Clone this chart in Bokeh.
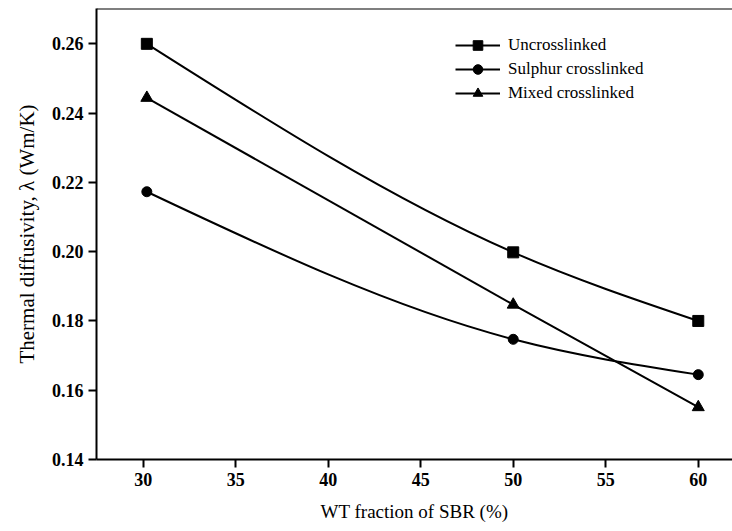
from bokeh.plotting import figure
from bokeh.models import Range1d, Legend, LegendItem, Span, FixedTicker, AllLabels
from bokeh.embed import file_html
from bokeh.resources import INLINE

# Data
wt_fraction = [30.2, 50.0, 60.0]
uncrosslinked = [0.2600, 0.1998, 0.1800]
sulphur = [0.2173, 0.1747, 0.1645]
mixed = [0.2444, 0.1847, 0.1551]
series_names = ["Uncrosslinked", "Sulphur crosslinked", "Mixed crosslinked"]
x_ticks = [30, 35, 40, 45, 50, 55, 60]
y_ticks = [0.14, 0.16, 0.18, 0.20, 0.22, 0.24, 0.26]

FONT = "Liberation Serif"

p = figure(width=732, height=531, output_backend="svg", toolbar_location=None,
           x_range=Range1d(27.48, 61.85), y_range=Range1d(0.14, 0.2702),
           min_border_left=96, min_border_right=0, min_border_top=8, min_border_bottom=72)
p.outline_line_color = None
p.grid.grid_line_color = None
p.background_fill_color = "white"
p.border_fill_color = "white"


def spline_segments(xs, ys):
    """Natural cubic spline through the data points, expressed as cubic bezier segments."""
    n = len(xs)
    h = [xs[i + 1] - xs[i] for i in range(n - 1)]
    d = [(ys[i + 1] - ys[i]) / h[i] for i in range(n - 1)]
    M = [0.0] * n
    if n > 2:
        a = [h[i - 1] for i in range(1, n - 1)]
        b = [2 * (h[i - 1] + h[i]) for i in range(1, n - 1)]
        c = [h[i] for i in range(1, n - 1)]
        r = [6 * (d[i] - d[i - 1]) for i in range(1, n - 1)]
        m = len(b)
        for i in range(1, m):
            w = a[i] / b[i - 1]
            b[i] -= w * c[i - 1]
            r[i] -= w * r[i - 1]
        sol = [0.0] * m
        sol[-1] = r[-1] / b[-1]
        for i in range(m - 2, -1, -1):
            sol[i] = (r[i] - c[i] * sol[i + 1]) / b[i]
        for i in range(m):
            M[i + 1] = sol[i]
    seg = dict(x0=[], y0=[], x1=[], y1=[], cx0=[], cy0=[], cx1=[], cy1=[])
    for i in range(n - 1):
        t0 = d[i] - h[i] * (2 * M[i] + M[i + 1]) / 6
        t1 = d[i] + h[i] * (M[i] + 2 * M[i + 1]) / 6
        seg["x0"].append(xs[i]); seg["y0"].append(ys[i])
        seg["x1"].append(xs[i + 1]); seg["y1"].append(ys[i + 1])
        seg["cx0"].append(xs[i] + h[i] / 3); seg["cy0"].append(ys[i] + t0 * h[i] / 3)
        seg["cx1"].append(xs[i + 1] - h[i] / 3); seg["cy1"].append(ys[i + 1] - t1 * h[i] / 3)
    return seg


legend_items = []
for name, ys, marker, size in [
    (series_names[0], uncrosslinked, "square", 11),
    (series_names[1], sulphur, "circle", 10),
    (series_names[2], mixed, "triangle", 12),
]:
    seg = spline_segments(wt_fraction, ys)
    b = p.bezier(x0=seg["x0"], y0=seg["y0"], x1=seg["x1"], y1=seg["y1"],
                 cx0=seg["cx0"], cy0=seg["cy0"], cx1=seg["cx1"], cy1=seg["cy1"],
                 line_color="black", line_width=2)
    s = p.scatter(wt_fraction, ys, marker=marker, size=size, fill_color="black", line_color="black")
    legend_items.append(LegendItem(label=name, renderers=[b, s]))

legend = Legend(items=legend_items, location=(359, 354), orientation="vertical",
                border_line_color=None, background_fill_alpha=0,
                glyph_width=45, glyph_height=24, spacing=0,
                label_standoff=8, padding=0, margin=0,
                label_text_font=FONT, label_text_font_size="17px", label_text_color="black")
p.add_layout(legend)

top_line = Span(location=0.2702, dimension="width", line_color="black", line_width=2)
p.add_layout(top_line)

for ax in (p.xaxis[0], p.yaxis[0]):
    ax.axis_line_width = 2
    ax.axis_line_color = "black"
    ax.major_tick_line_width = 2
    ax.major_tick_line_color = "black"
    ax.major_tick_in = 0
    ax.major_tick_out = 8
    ax.minor_tick_line_color = None
    ax.major_label_policy = AllLabels()
    ax.major_label_text_font = FONT
    ax.major_label_text_font_size = "18px"
    ax.major_label_text_font_style = "bold"
    ax.major_label_text_color = "black"
    ax.axis_label_text_font = FONT
    ax.axis_label_text_font_size = "19px"
    ax.axis_label_text_font_style = "normal"
    ax.axis_label_text_color = "black"

p.xaxis[0].ticker = FixedTicker(ticks=x_ticks)
p.yaxis[0].ticker = FixedTicker(ticks=y_ticks)
p.yaxis[0].major_label_overrides = {t: f"{t:.2f}" for t in y_ticks}
p.xaxis[0].axis_label = "WT fraction of SBR (%)"
p.yaxis[0].axis_label = "Thermal diffusivity, λ (Wm/K)"
p.yaxis[0].axis_label_text_font_size = "21px"
p.xaxis[0].major_label_standoff = 5
p.xaxis[0].axis_label_standoff = 12
p.yaxis[0].major_label_standoff = 5
p.yaxis[0].axis_label_standoff = 10

open("out.html", "w").write(file_html(p, INLINE))
